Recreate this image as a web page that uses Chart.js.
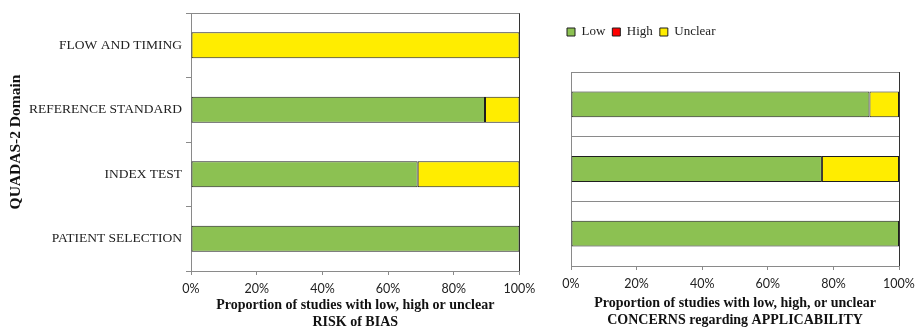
<!DOCTYPE html>
<html>
<head>
<meta charset="utf-8">
<script src="https://cdn.jsdelivr.net/npm/chart.js@4"></script>
<style>
    html, body { margin: 0; padding: 0; background: #fff; }
    #wrap { position: relative; width: 917px; height: 331px; }
    #bias-chart { position: absolute; left: 0; top: 0; }
    #applic-chart { position: absolute; left: 545px; top: 0; }
</style>
</head>
<body>
<div id="wrap">
    <canvas id="bias-chart" width="545" height="331"></canvas>
    <canvas id="applic-chart" width="372" height="331"></canvas>
</div>
<script>
// QUADAS-2 domains, top to bottom
const domains = ["FLOW AND TIMING", "REFERENCE STANDARD", "INDEX TEST", "PATIENT SELECTION"];
const applicDomains = ["REFERENCE STANDARD", "INDEX TEST", "PATIENT SELECTION"];

// risk of bias (% of studies)
const biasLow = [0, 89.5, 69, 100];
const biasHigh = [0, 0, 0, 0];
const biasUnclear = [100, 10.5, 31, 0];

// applicability concerns (% of studies)
const applicLow = [91, 76.5, 100];
const applicHigh = [0, 0, 0];
const applicUnclear = [9, 23.5, 0];

const xTicks = [0, 20, 40, 60, 80, 100];

const GREEN = "#8cc152";
const RED = "#ff0000";
const YELLOW = "#ffed00";
const EDGE = "#1e1e1e";
const GRID = "#8a8a8a";
const SERIF = "'Liberation Serif', 'Times New Roman', serif";
const SANS = "Lato, 'Open Sans', sans-serif";

function makeDatasets(low, high, unclear) {
    const common = { borderColor: EDGE, borderWidth: 1, borderSkipped: false,
                     barPercentage: 1, categoryPercentage: 0.4 };
    return [
        { label: "Low", data: low, backgroundColor: GREEN, ...common },
        { label: "High", data: high, backgroundColor: RED, ...common },
        { label: "Unclear", data: unclear, backgroundColor: YELLOW, ...common }
    ];
}

function xScale(titleLines, titlePadBottom, height) {
    return {
        stacked: true,
        min: 0,
        max: 100,
        afterBuildTicks: s => { s.ticks = xTicks.map(v => ({ value: v })); },
        afterFit: s => {
            s.height = height;
            // let the layout padding alone decide the side margins
            s.paddingLeft = 0;
            s.paddingRight = 0;
        },
        ticks: {
            callback: v => v + "%",
            color: "#222",
            font: { family: SANS, size: 12.5 },
            padding: 6,
            maxRotation: 0
        },
        grid: {
            color: ctx => ctx.index === xTicks.length - 1 ? "#333" : "transparent",
            tickColor: GRID,
            tickLength: 4
        },
        border: { display: true, color: GRID, width: 1 },
        title: {
            display: true,
            text: titleLines,
            color: "#111",
            font: { family: SERIF, size: 14, weight: "bold", lineHeight: 1.2 },
            padding: { top: 0, bottom: titlePadBottom }
        }
    };
}

// left chart: risk of bias
new Chart(document.getElementById("bias-chart").getContext("2d"), {
    type: "bar",
    data: {
        labels: domains,
        datasets: makeDatasets(biasLow, biasHigh, biasUnclear)
    },
    options: {
        indexAxis: "y",
        responsive: false,
        animation: false,
        layout: { padding: { left: 7, right: 25.5, top: 13, bottom: 0 } },
        plugins: {
            legend: { display: false },
            tooltip: { enabled: false }
        },
        scales: {
            x: xScale(["Proportion of studies with low, high or unclear", "RISK of BIAS"], 0, 60),
            y: {
                stacked: true,
                afterFit: s => { s.width = 184; },
                ticks: {
                    color: "#222",
                    font: { family: SERIF, size: 13.5 },
                    padding: 4
                },
                grid: {
                    color: ctx => ctx.index === 0 ? GRID : "transparent",
                    tickColor: GRID,
                    tickLength: 5
                },
                border: { display: true, color: GRID, width: 1 },
                title: {
                    display: true,
                    text: "QUADAS-2 Domain",
                    color: "#111",
                    font: { family: SERIF, size: 15.5, weight: "bold" },
                    padding: { top: 0, bottom: 0 }
                }
            }
        }
    }
});

// right chart: concerns regarding applicability
new Chart(document.getElementById("applic-chart").getContext("2d"), {
    type: "bar",
    data: {
        labels: applicDomains,
        datasets: makeDatasets(applicLow, applicHigh, applicUnclear)
    },
    options: {
        indexAxis: "y",
        responsive: false,
        animation: false,
        layout: { padding: { left: 15, right: 18, top: 18.5, bottom: 0 } },
        plugins: {
            legend: {
                display: true,
                position: "top",
                align: "start",
                labels: {
                    boxWidth: 8,
                    boxHeight: 8,
                    padding: 7,
                    color: "#222",
                    font: { family: SERIF, size: 13 }
                }
            },
            tooltip: { enabled: false }
        },
        scales: {
            x: xScale(["Proportion of studies with low, high, or unclear", "CONCERNS regarding APPLICABILITY"], 2.5, 65),
            gap: {
                type: "linear",
                position: "top",
                display: true,
                ticks: { display: false },
                grid: { display: false },
                border: { display: false },
                afterFit: s => { s.height = 23.5; }
            },
            y: {
                stacked: true,
                afterFit: s => { s.width = 11; },
                ticks: { display: false },
                grid: { color: GRID, drawTicks: false },
                border: { display: true, color: GRID, width: 1 }
            }
        }
    }
});
</script>
</body>
</html>
